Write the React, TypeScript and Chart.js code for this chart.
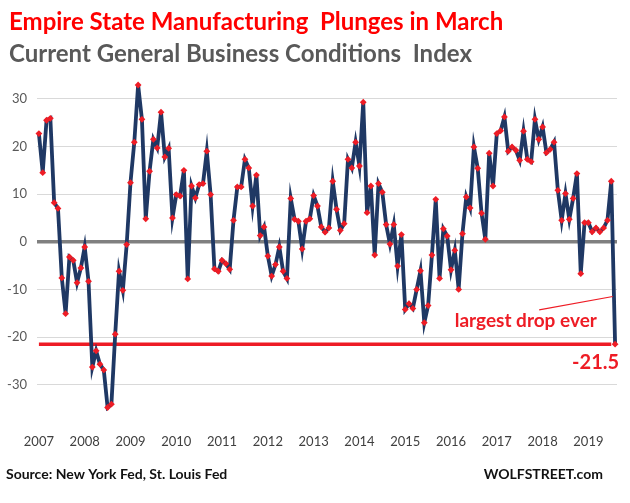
import React, { useEffect, useRef } from "react";
import { Chart, registerables } from "chart.js";

Chart.register(...registerables);

const TITLE = "Empire State Manufacturing  Plunges in March";
const SUBTITLE = "Current General Business Conditions  Index";
const SOURCE = "Source: New York Fed, St. Louis Fed";
const BRAND = "WOLFSTREET.com";
const NOTE = "largest drop ever";

const START_YEAR = 2007;
const START_MONTH = 8; // August 2007

const V2007 = [22.7, 14.5, 25.5, 25.9, 8.2];
const V2008 = [7.0, -7.6, -15.1, -3.2, -3.9, -8.6, -5.5, -1.1, -8.3, -26.3, -22.9, -25.7];
const V2009 = [-26.9, -34.8, -34.1, -19.4, -6.2, -10.2, -0.6, 12.4, 20.9, 32.9, 25.7, 4.8];
const V2010 = [14.8, 21.5, 19.7, 27.2, 17.8, 19.6, 5.0, 9.9, 9.6, 15.0, -7.8, 11.7];
const V2011 = [9.2, 12.0, 12.2, 19.0, 9.9, -5.7, -6.2, -3.9, -4.6, -5.8, 4.5, 11.5];
const V2012 = [11.5, 17.3, 15.5, 7.5, 14.0, 1.3, 3.1, -3.0, -7.2, -4.8, -1.1, -6.2];
const V2013 = [-7.7, 9.1, 4.7, 4.3, -1.5, 4.3, 4.8, 9.7, 7.5, 3.1, 2.0, 2.9];
const V2014 = [12.7, 6.8, 2.4, 3.8, 17.3, 15.5, 20.9, 15.9, 29.3, 6.1, 11.7, -2.8];
const V2015 = [12.2, 10.4, 3.6, -0.5, 3.6, -5.1, 1.5, -14.2, -13.0, -14.0, -10.0, -6.1];
const V2016 = [-17.0, -13.4, -2.8, 8.9, -7.7, 2.7, 1.2, -5.9, -1.8, -10.0, 1.7, 9.4];
const V2017 = [7.1, 19.9, 15.4, 6.0, 0.5, 18.6, 11.7, 22.7, 23.3, 26.2, 19.0, 19.9];
const V2018 = [19.2, 17.1, 23.2, 17.3, 16.8, 25.7, 21.5, 24.1, 18.7, 19.4, 20.9, 10.8];
const V2019 = [4.5, 10.1, 4.7, 9.1, 14.3, -6.7, 4.0, 4.0, 2.1, 2.9, 2.1, 2.9];
const V2020 = [4.5, 12.7, -21.5];

const VALUES = [
  ...V2007, ...V2008, ...V2009, ...V2010, ...V2011, ...V2012, ...V2013,
  ...V2014, ...V2015, ...V2016, ...V2017, ...V2018, ...V2019, ...V2020,
];

const RECORD_LOW = -21.5;
const Y_TICKS = [-30, -20, -10, 0, 10, 20, 30];
const Y_MIN = -37;
const Y_MAX = 35;
const LABEL_EVERY = 12;

const MONTHS: string[] = VALUES.map((_, i) => {
  const m = START_MONTH - 1 + i;
  const y = START_YEAR + Math.floor(m / 12);
  const mm = (m % 12) + 1;
  return `${y}-${mm < 10 ? "0" + mm : mm}`;
});

const RED = "#ee1c25";
const NAVY = "#1f3864";
const FONT = "Lato, 'Open Sans', sans-serif";

const textPlugin = {
  id: "texts",
  afterDraw(chart: any) {
    const { ctx } = chart;
    const xs = chart.scales.x;
    const ys = chart.scales.y;
    ctx.save();
    ctx.textBaseline = "alphabetic";
    ctx.textAlign = "left";
    ctx.fillStyle = "#ff0000";
    ctx.font = `bold 24px ${FONT}`;
    ctx.fillText(TITLE, 9, 30);
    ctx.fillStyle = "#595959";
    ctx.font = `bold 24px ${FONT}`;
    ctx.fillText(SUBTITLE, 9, 62);

    ctx.fillStyle = "#111111";
    ctx.font = `bold 14px ${FONT}`;
    ctx.fillText(SOURCE, 6, 479);
    ctx.textAlign = "right";
    ctx.fillText(BRAND, 603, 479);

    const last = VALUES.length - 1;
    const px = xs.getPixelForValue(last);
    const py = ys.getPixelForValue(VALUES[last]);
    ctx.fillStyle = RED;
    ctx.font = `bold 20px ${FONT}`;
    ctx.textAlign = "right";
    ctx.textBaseline = "middle";
    ctx.fillText(VALUES[last].toFixed(1), px + 4, py + 18);

    ctx.font = `bold 19px ${FONT}`;
    ctx.textAlign = "center";
    ctx.fillText(NOTE, xs.getPixelForValue(127.6), ys.getPixelForValue(-16.7));

    ctx.strokeStyle = RED;
    ctx.lineWidth = 1.2;
    ctx.beginPath();
    ctx.moveTo(xs.getPixelForValue(131.1), ys.getPixelForValue(-14.3));
    ctx.lineTo(xs.getPixelForValue(150.4), ys.getPixelForValue(-11.5));
    ctx.stroke();
    ctx.restore();
  },
};

export default function App() {
  const ref = useRef<HTMLCanvasElement | null>(null);
  useEffect(() => {
    document.body.style.margin = "0";
    const canvas = ref.current;
    if (!canvas) return;
    const chart = new Chart(canvas, {
      type: "line",
      data: {
        labels: MONTHS,
        datasets: [
          {
            label: "Current General Business Conditions Index",
            data: VALUES,
            borderColor: NAVY,
            borderWidth: 3.8,
            pointStyle: "rectRot",
            pointRadius: 3.4,
            pointBackgroundColor: RED,
            pointBorderColor: RED,
            pointBorderWidth: 0,
            tension: 0,
          },
          {
            label: "Record low",
            data: VALUES.map((_, i) => (i < VALUES.length - 1 ? RECORD_LOW : null)),
            borderColor: RED,
            borderWidth: 3.5,
            pointRadius: 0,
            tension: 0,
          },
        ],
      },
      options: {
        responsive: false,
        animation: false,
        devicePixelRatio: 1,
        layout: { padding: { left: 0, right: 13, top: 75, bottom: 0 } },
        plugins: {
          legend: { display: false },
          tooltip: { enabled: false },
          title: { display: false },
        },
        scales: {
          x: {
            type: "category",
            offset: true,
            grid: { display: false },
            border: { display: false },
            afterBuildTicks: (scale: any) => {
              scale.ticks = scale.ticks.filter((t: any) => t.value % LABEL_EVERY === 0);
            },
            afterFit: (scale: any) => {
              scale.height = 85;
            },
            ticks: {
              autoSkip: false,
              maxRotation: 0,
              minRotation: 0,
              padding: 8,
              color: "#404040",
              font: { family: FONT, size: 13 },
              callback: function (this: any, value: any) {
                return String(this.getLabelForValue(value)).slice(0, 4);
              },
            },
          },
          y: {
            min: Y_MIN,
            max: Y_MAX,
            afterBuildTicks: (scale: any) => {
              scale.ticks = Y_TICKS.map((v) => ({ value: v }));
            },
            afterFit: (scale: any) => {
              scale.width = 37;
            },
            border: { display: false },
            grid: {
              drawTicks: false,
              color: (c: any) => (c.tick && c.tick.value === 0 ? "#808080" : "#d9d9d9"),
              lineWidth: (c: any) => (c.tick && c.tick.value === 0 ? 3.5 : 1),
            },
            ticks: {
              padding: 10,
              color: "#595959",
              font: { family: FONT, size: 13 },
            },
          },
        },
      },
      plugins: [textPlugin],
    });
    return () => chart.destroy();
  }, []);
  return (
    <div style={{ width: 630, height: 503, background: "#ffffff" }}>
      <canvas ref={ref} width={630} height={503} style={{ display: "block" }} />
    </div>
  );
}
